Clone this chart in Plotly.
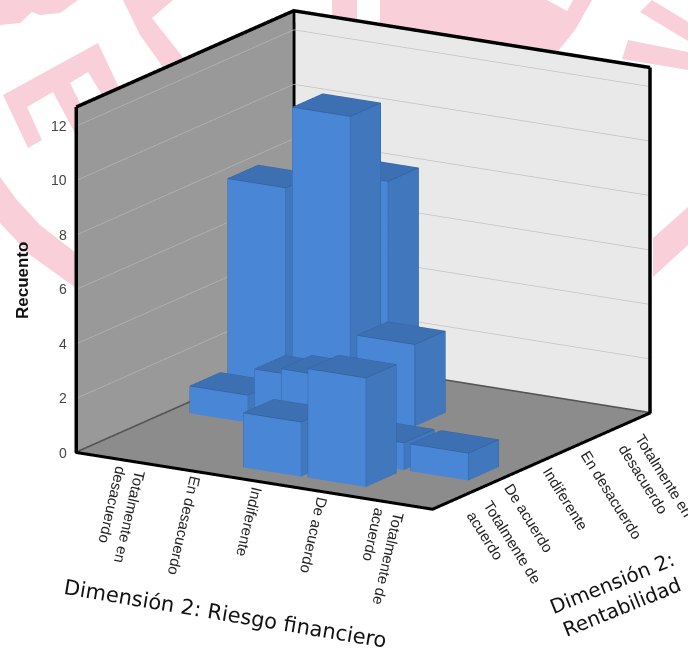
import plotly.graph_objects as go

# Categories of both survey dimensions
riesgo_labels = ["Totalmente en<br>desacuerdo", "En desacuerdo", "Indiferente", "De acuerdo", "Totalmente de<br>acuerdo"]
rentabilidad_labels = ["Totalmente de<br>acuerdo", "De acuerdo", "Indiferente", "En desacuerdo", "Totalmente en<br>desacuerdo"]
count_ticks = [0, 2, 4, 6, 8, 10, 12]

# Non-empty cells of the cross table
riesgo_idx = [0, 1, 1, 0, 2, 1, 2, 3, 2, 3, 4]
rentabilidad_idx = [3, 4, 3, 2, 3, 2, 1, 1, 0, 0, 1]
counts = [8, 8, 11, 1, 3, 2, 3, 1, 2, 4, 1]

X_RANGE = (-0.735, 4.79)
Y_RANGE = (-0.93, 4.82)
Z_RANGE = (0, 12.7)
BAR_HALF_X = 0.447
BAR_HALF_Y = 0.40
PAD = 0.02      # keeps walls clear of the scene's clipping box
EPS = 0.012     # lifts lines off the wall they lie on

FRONT = "#4a86d6"
SIDE = "#4077bd"
TOP = "#3d6fb3"
EDGE = "#2f5f9e"
PINK = "#f9cfda"
W, H = 688, 651
FLAT = dict(ambient=1, diffuse=0, specular=0, roughness=1, fresnel=0)


def box_mesh(x0, x1, y0, y1, z0, z1):
    xs = [x0, x1, x1, x0, x0, x1, x1, x0]
    ys = [y0, y0, y1, y1, y0, y0, y1, y1]
    zs = [z0, z0, z0, z0, z1, z1, z1, z1]
    # front (y0), right (x1), top, back, left, bottom
    i = [0, 0, 1, 1, 4, 4, 2, 2, 3, 3, 0, 0]
    j = [1, 5, 2, 6, 5, 6, 3, 7, 0, 4, 1, 2]
    k = [5, 4, 6, 5, 6, 7, 7, 6, 4, 7, 2, 3]
    colors = [FRONT] * 2 + [SIDE] * 2 + [TOP] * 2 + [SIDE] * 6
    return go.Mesh3d(x=xs, y=ys, z=zs, i=i, j=j, k=k, facecolor=colors, flatshading=True,
                     lighting=FLAT, hoverinfo="skip", showscale=False)


def box_edges(x0, x1, y0, y1, z0, z1):
    xs = [x0, x1, x1, x0, x0, None, x0, x1, x1, x0, x0, None, x1, x1, None, x1, x1, None, x0, x0]
    ys = [y0, y0, y1, y1, y0, None, y0, y0, y1, y1, y0, None, y0, y0, None, y1, y1, None, y0, y0]
    zs = [z1, z1, z1, z1, z1, None, z0, z0, z0, z0, z0, None, z0, z1, None, z0, z1, None, z0, z1]
    return go.Scatter3d(x=xs, y=ys, z=zs, mode="lines", line=dict(color=EDGE, width=1.5), hoverinfo="skip")


def plane(xs, ys, zs, color):
    return go.Mesh3d(x=xs, y=ys, z=zs, i=[0, 0], j=[1, 2], k=[2, 3], color=color, flatshading=True,
                     lighting=FLAT, hoverinfo="skip")


def poly(points, color=PINK):
    path = "M" + "L".join(f"{x / W:.4f},{1 - y / H:.4f}" for x, y in points) + "Z"
    return dict(type="path", path=path, xref="paper", yref="paper", fillcolor=color,
                line=dict(width=0), layer="below")


x0, x1 = X_RANGE
y0, y1 = Y_RANGE
z0, z1 = Z_RANGE
xi, yi, zi = x0 + EPS, y1 - EPS, z0 + EPS

traces = [
    plane([x0, x1, x1, x0], [y0, y0, y1, y1], [z0] * 4, "#8c8c8c"),
    plane([x0, x0, x0, x0], [y0, y1, y1, y0], [z0, z0, z1, z1], "#999999"),
    plane([x0, x1, x1, x0], [y1, y1, y1, y1], [z0, z0, z1, z1], "#e9e9e9"),
]

# Gridlines on the two walls
for v in count_ticks[1:]:
    traces.append(go.Scatter3d(x=[xi, xi], y=[y0, y1], z=[v, v], mode="lines",
                               line=dict(color="#b4b4b4", width=1.5), hoverinfo="skip"))
    traces.append(go.Scatter3d(x=[x0, x1], y=[yi, yi], z=[v, v], mode="lines",
                               line=dict(color="#c4c2bf", width=1.5), hoverinfo="skip"))

# Heavy frame around floor and walls
frame = dict(mode="lines", line=dict(color="black", width=7), hoverinfo="skip")
traces.append(go.Scatter3d(x=[xi, xi, x1, x1, None, xi, xi, None, xi, xi, None, x1, x1],
                           y=[y0, yi, yi, yi, None, y0, y0, None, yi, yi, None, yi, yi],
                           z=[z1, z1, z1, z1, None, z0, z1, None, z0, z1, None, z0, z1], **frame))
traces.append(go.Scatter3d(x=[x0, x1, x1], y=[y0, y0, y1], z=[zi, zi, zi], mode="lines",
                           line=dict(color="black", width=6), hoverinfo="skip"))
traces.append(go.Scatter3d(x=[xi, xi, x1], y=[y0, yi, yi], z=[zi, zi, zi], mode="lines",
                           line=dict(color="#555555", width=5), hoverinfo="skip"))

# One solid block per table cell
for r, c, n in zip(riesgo_idx, rentabilidad_idx, counts):
    b = (r - BAR_HALF_X, r + BAR_HALF_X, c - BAR_HALF_Y, c + BAR_HALF_Y, 0, n)
    traces.append(box_mesh(*b))
    traces.append(box_edges(*b))

annotations = []
for v in count_ticks:
    annotations.append(dict(x=x0, y=y0, z=v, text=str(v), showarrow=False, xanchor="right", yanchor="middle",
                            xshift=-7, font=dict(family="Liberation Sans", size=14, color="#444444")))
for n, label in enumerate(riesgo_labels):
    annotations.append(dict(x=n, y=y0, z=0, text=label, showarrow=False, textangle=103, align="left",
                            xanchor="center", yanchor="top", xshift=-3, yshift=-2,
                            font=dict(family="Liberation Sans", size=15, color="#222222")))
for n, label in enumerate(rentabilidad_labels):
    annotations.append(dict(x=x1, y=n, z=0, text=label, showarrow=False, textangle=58, align="left",
                            xanchor="left", yanchor="top", xshift=-7, yshift=-1,
                            font=dict(family="Liberation Sans", size=15, color="#222222")))

fig = go.Figure(traces)
fig.update_layout(
    width=W, height=H, margin=dict(l=0, r=0, t=0, b=0), paper_bgcolor="white", showlegend=False,
    shapes=[
        poly([(0, 0), (78, 0), (60, 13), (40, 15), (32, 12), (20, 23), (0, 25)]),
        poly([(123, 0), (173, 0), (152, 18), (185, 60), (165, 70), (140, 35)]),
        poly([(3, 95), (98, 43), (120, 90), (76, 115), (76, 135), (53, 92), (27, 107), (42, 140), (28, 148)]),
        poly([(70, 83), (88, 72), (102, 95), (82, 107)], "white"),
        poly([(0, 177), (17, 200), (40, 225), (76, 253), (76, 288), (30, 255), (0, 223)]),
        poly([(332, 0), (357, 0), (357, 30), (332, 20)]),
        poly([(380, 0), (547, 0), (567, 11), (573, 0), (592, 0), (575, 30), (555, 55), (380, 30)]),
        poly([(640, 12), (652, 0), (688, 22), (688, 41)]),
        poly([(628, 40), (688, 52), (688, 70), (622, 59)]),
        poly([(653, 238), (688, 207), (688, 245), (653, 277)]),
    ],
    annotations=[
        dict(x=22 / W, y=1 - 281 / H, xref="paper", yref="paper", text="<b>Recuento</b>", textangle=-90,
             xanchor="center", yanchor="middle", showarrow=False,
             font=dict(family="Liberation Sans", size=17, color="#111111")),
        dict(x=226 / W, y=1 - 614 / H, xref="paper", yref="paper", text="Dimensión 2: Riesgo financiero",
             textangle=9.5, xanchor="center", yanchor="middle", showarrow=False,
             font=dict(family="DejaVu Sans", size=21, color="#111111")),
        dict(x=617 / W, y=1 - 595 / H, xref="paper", yref="paper", text="Dimensión 2:<br>Rentabilidad",
             textangle=-22, xanchor="center", yanchor="middle", showarrow=False,
             font=dict(family="DejaVu Sans", size=20, color="#111111")),
    ],
    scene=dict(
        domain=dict(x=[39 / W, 687 / W], y=[1 - 520 / H, 1 - 0 / H]),
        bgcolor="rgba(0,0,0,0)",
        aspectmode="manual",
        aspectratio=dict(x=1.613, y=1.640, z=1.384),
        camera=dict(projection=dict(type="orthographic"), up=dict(x=0, y=0, z=1),
                    center=dict(x=0, y=0, z=0), eye=dict(x=0.99, y=-1.65, z=0.53)),
        xaxis=dict(range=[x0 - PAD, x1 + PAD], visible=False),
        yaxis=dict(range=[y0 - PAD, y1 + PAD], visible=False),
        zaxis=dict(range=[z0 - PAD, z1 + PAD], visible=False),
        annotations=annotations,
    ),
)
fig.write_html("out.html")
